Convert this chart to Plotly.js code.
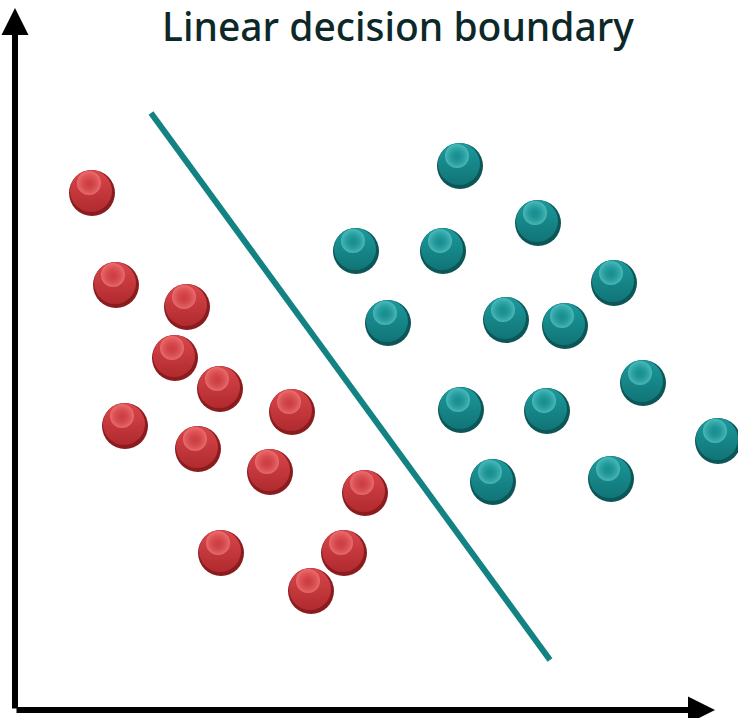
<!DOCTYPE html>
<html>
<head>
<meta charset="utf-8">
<script src="https://cdn.plot.ly/plotly-3.0.1.min.js"></script>
<style>html,body{margin:0;padding:0;background:#fff;}#chart{width:738px;height:718px;}</style>
</head>
<body>
<div id="chart"></div>
<script>
// Class A (red) points
const redX = [77, 101, 172, 160, 205, 110, 277, 183, 255, 350, 206, 329, 296];
const redY = [517, 425, 403, 352, 321, 284, 298, 261, 238, 217, 157, 157, 119];
// Class B (teal) points
const tealX = [445, 523, 341, 428, 599, 373, 491, 550, 628, 446, 532, 703, 478, 596];
const tealY = [544, 487, 459, 459, 427, 387, 390, 384, 327, 300, 299, 269, 228, 231];
// Decision boundary endpoints
const boundaryX = [136, 535];
const boundaryY = [597, 50];
const titleText = "Linear decision boundary";

function sphere(xs, ys, top, bottom, rim, hi, hiEdge) {
  const rimT = {
    x: xs, y: ys, type: 'scatter', mode: 'markers', hoverinfo: 'skip',
    marker: {size: 46, color: rim, line: {width: 0}}
  };
  const body = {
    x: xs.map(v => v - 1), y: ys.map(v => v + 2), type: 'scatter', mode: 'markers', hoverinfo: 'skip',
    marker: {size: 42, color: top, line: {width: 0},
             gradient: {type: 'vertical', color: bottom}}
  };
  const shine = {
    x: xs.map(v => v - 3), y: ys.map(v => v + 10), type: 'scatter', mode: 'markers', hoverinfo: 'skip',
    marker: {size: 24, color: hi, line: {width: 0},
             gradient: {type: 'radial', color: hiEdge}}
  };
  return [rimT, body, shine];
}

const traces = [
  {x: boundaryX, y: boundaryY, type: 'scatter', mode: 'lines', hoverinfo: 'skip',
   line: {color: '#128282', width: 6}},
  ...sphere(redX, redY, '#d9474b', '#b02a2e', '#8a1c1f', 'rgba(240,120,120,0.8)', 'rgba(217,71,75,0)'),
  ...sphere(tealX, tealY, '#1b9a9c', '#117476', '#0c5658', 'rgba(90,195,195,0.8)', 'rgba(27,154,156,0)')
];

const layout = {
  width: 738, height: 718,
  margin: {l: 0, r: 0, t: 0, b: 0},
  paper_bgcolor: '#ffffff', plot_bgcolor: '#ffffff',
  showlegend: false,
  title: {text: titleText, x: 398/738, xanchor: 'center', xref: 'paper',
          y: 1 - 27/718, yanchor: 'middle', yref: 'container',
          font: {family: 'Noto Sans, Open Sans, sans-serif', size: 39, weight: 500, color: '#0c2828'}},
  xaxis: {range: [-15, 723], visible: false, fixedrange: true},
  yaxis: {range: [-8, 710], visible: false, fixedrange: true},
  annotations: [
    {x: 0, y: 702, ax: 0, ay: 0, xref: 'x', yref: 'y', axref: 'x', ayref: 'y',
     showarrow: true, arrowhead: 2, arrowsize: 0.9, arrowwidth: 6, arrowcolor: '#000', text: ''},
    {x: 700, y: 0, ax: 0, ay: 0, xref: 'x', yref: 'y', axref: 'x', ayref: 'y',
     showarrow: true, arrowhead: 2, arrowsize: 0.9, arrowwidth: 6, arrowcolor: '#000', text: ''}
  ]
};

Plotly.newPlot('chart', traces, layout, {displayModeBar: false, staticPlot: true});
</script>
</body>
</html>
